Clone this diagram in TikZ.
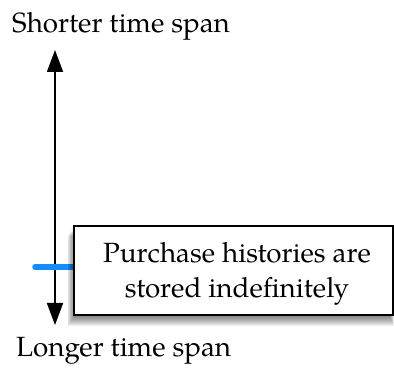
\documentclass[tikz,border=0pt]{standalone}
\usepackage{fontspec}
\setmainfont{texgyrepagella-regular.otf}
\usetikzlibrary{arrows.meta}
\tikzset{
  lbl/.style={font=\fontsize{27.8}{35}\selectfont, inner sep=0pt, anchor=base west},
  boxtext/.style={font=\fontsize{27.8}{35}\selectfont, inner sep=0pt, anchor=base},
  axis/.style={line width=1.8pt, {Triangle[length=22pt,width=16pt]}-{Triangle[length=22pt,width=16pt]}},
  mark line/.style={line width=5.5pt, line cap=round, draw={rgb,255:red,20;green,140;blue,250}},
  boxstyle/.style={draw=black, line width=1.6pt, fill=white, minimum width=319pt, minimum height=89pt, inner sep=0pt},
}
\begin{document}
\begin{tikzpicture}[x=1pt,y=-1pt]
\useasboundingbox (0,0) rectangle (394,371);
\node[lbl] (top) at (12,33) {Shorter time span};
\node[lbl] (bot) at (16,357) {Longer time span};
\coordinate (atop) at (55,50);
\coordinate (abot) at (55,325);
\draw[axis] (abot) -- (atop);
\coordinate (mleft) at (35,267);
\coordinate (mright) at (73,267);
\draw[mark line] (mleft) -- (mright);
% soft shadow
\foreach \i in {1,...,12} {
  \fill[black, opacity=0.06] (73-\i*0.7+3, 225+\i*0.9) rectangle (392+\i*0.4-3, 314+\i*1.0);
}
\node[boxstyle, anchor=north west] (box) at (73,225) {};
\node[boxtext] (t1) at (237,263) {Purchase histories are};
\node[boxtext] (t2) at (237,298) {stored indefinitely};
\end{tikzpicture}
\end{document}
